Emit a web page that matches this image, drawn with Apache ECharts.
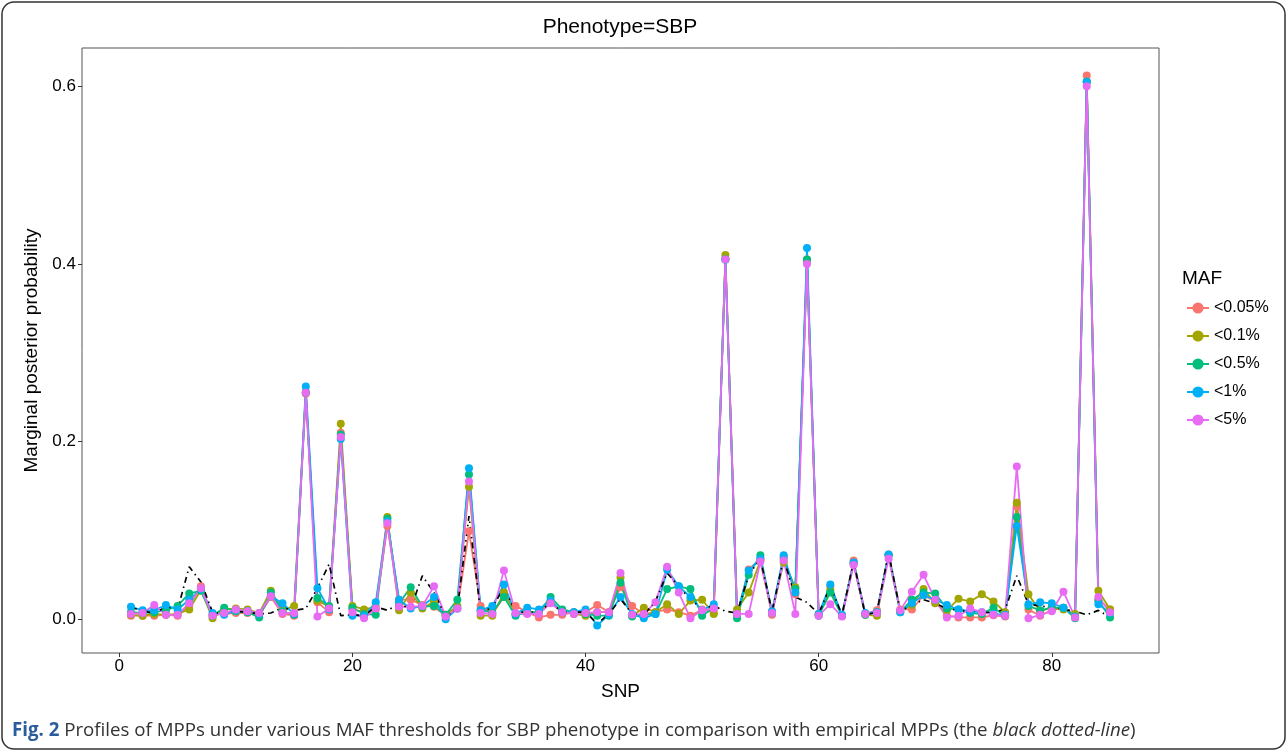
<!DOCTYPE html>
<html>
<head>
<meta charset="utf-8">
<script src="https://cdn.jsdelivr.net/npm/echarts@6/dist/echarts.min.js"></script>
<style>
  html, body { margin: 0; padding: 0; background: #fff; }
  #chart { width: 1288px; height: 752px; }
</style>
</head>
<body>
<div id="chart"></div>
<script>
// SNP index 1..85
var snp = [1,2,3,4,5,6,7,8,9,10,11,12,13,14,15,16,17,18,19,20,21,22,23,24,25,26,27,28,29,30,
  31,32,33,34,35,36,37,38,39,40,41,42,43,44,45,46,47,48,49,50,51,52,53,54,55,56,57,58,59,60,
  61,62,63,64,65,66,67,68,69,70,71,72,73,74,75,76,77,78,79,80,81,82,83,84,85];

// MAF < 0.05%
var maf005 = [0.004,0.004,0.004,0.005,0.004,0.015,0.037,0.005,0.006,0.007,0.007,0.004,0.025,0.006,0.004,
  0.254,0.019,0.008,0.210,0.011,0.008,0.011,0.105,0.022,0.022,0.016,0.014,0.004,0.012,0.099,
  0.015,0.006,0.025,0.015,0.008,0.002,0.005,0.005,0.008,0.008,0.016,0.008,0.036,0.015,0.006,
  0.008,0.011,0.008,0.004,0.011,0.008,0.406,0.005,0.056,0.068,0.005,0.070,0.028,0.405,0.005,
  0.037,0.004,0.066,0.006,0.010,0.073,0.011,0.011,0.027,0.020,0.004,0.002,0.002,0.002,0.0045,
  0.003,0.127,0.011,0.004,0.010,0.013,0.004,0.612,0.022,0.011];
// MAF < 0.1%
var maf01 = [0.005,0.004,0.006,0.005,0.006,0.011,0.033,0.001,0.011,0.012,0.011,0.007,0.032,0.010,0.015,
  0.256,0.021,0.014,0.220,0.015,0.011,0.014,0.115,0.010,0.030,0.012,0.020,0.005,0.015,0.149,
  0.004,0.004,0.030,0.006,0.007,0.008,0.020,0.008,0.006,0.004,0.008,0.008,0.047,0.004,0.013,
  0.008,0.017,0.006,0.021,0.022,0.006,0.410,0.011,0.030,0.066,0.008,0.064,0.036,0.403,0.006,
  0.033,0.004,0.063,0.005,0.004,0.072,0.009,0.016,0.034,0.018,0.010,0.023,0.020,0.028,0.020,
  0.008,0.131,0.028,0.009,0.013,0.011,0.006,0.605,0.032,0.011];
// MAF < 0.5%
var maf05 = [0.008,0.007,0.008,0.010,0.015,0.029,0.032,0.004,0.013,0.009,0.008,0.002,0.030,0.009,0.005,
  0.255,0.024,0.015,0.208,0.013,0.006,0.005,0.113,0.018,0.036,0.014,0.015,0.005,0.022,0.163,
  0.010,0.008,0.025,0.004,0.008,0.008,0.025,0.011,0.008,0.006,0.004,0.004,0.041,0.003,0.005,
  0.006,0.034,0.037,0.034,0.004,0.013,0.405,0.001,0.050,0.072,0.007,0.068,0.034,0.405,0.004,
  0.030,0.004,0.063,0.005,0.008,0.072,0.008,0.022,0.030,0.029,0.012,0.011,0.007,0.006,0.013,
  0.004,0.115,0.015,0.010,0.013,0.013,0.001,0.605,0.021,0.002];
// MAF < 1%
var maf1 = [0.014,0.010,0.010,0.016,0.011,0.022,0.034,0.007,0.005,0.010,0.009,0.006,0.026,0.018,0.006,
  0.262,0.035,0.011,0.203,0.004,0.004,0.019,0.110,0.022,0.012,0.015,0.025,0.000,0.012,0.170,
  0.010,0.015,0.039,0.006,0.013,0.011,0.021,0.008,0.008,0.011,-0.007,0.005,0.025,0.006,0.001,
  0.006,0.056,0.037,0.025,0.010,0.017,0.405,0.006,0.055,0.068,0.009,0.072,0.030,0.418,0.006,
  0.039,0.005,0.064,0.007,0.008,0.073,0.008,0.018,0.027,0.022,0.016,0.011,0.009,0.008,0.006,
  0.005,0.105,0.017,0.019,0.018,0.013,0.003,0.605,0.017,0.007];
// MAF < 5%
var maf5 = [0.006,0.007,0.016,0.005,0.005,0.018,0.035,0.004,0.007,0.011,0.009,0.007,0.026,0.007,0.007,
  0.255,0.003,0.012,0.205,0.008,0.001,0.012,0.108,0.014,0.014,0.015,0.037,0.003,0.012,0.155,
  0.007,0.006,0.055,0.007,0.006,0.006,0.018,0.008,0.006,0.007,0.008,0.008,0.052,0.005,0.006,
  0.019,0.059,0.030,0.001,0.010,0.012,0.405,0.006,0.006,0.065,0.007,0.066,0.006,0.400,0.004,
  0.017,0.003,0.061,0.006,0.007,0.068,0.010,0.031,0.050,0.022,0.002,0.004,0.012,0.008,0.005,
  0.004,0.172,0.001,0.005,0.009,0.031,0.002,0.600,0.025,0.008];
// empirical MPPs (black dotted line)
var empirical = [0.013,0.010,0.006,0.014,0.011,0.059,0.042,0.008,0.006,0.009,0.008,0.006,0.007,0.013,0.010,
  0.012,0.035,0.062,0.004,0.005,0.004,0.014,0.010,0.017,0.012,0.049,0.030,0.003,0.012,0.116,
  0.008,0.013,0.036,0.008,0.008,0.008,0.019,0.008,0.008,0.008,-0.005,0.006,0.023,0.006,0.005,
  0.020,0.052,0.037,0.022,0.012,0.015,0.009,0.007,0.050,0.068,0.009,0.068,0.025,0.019,0.006,
  0.037,0.005,0.065,0.005,0.008,0.075,0.009,0.016,0.022,0.018,0.012,0.010,0.009,0.0075,0.008,
  0.011,0.049,0.017,0.015,0.013,0.011,0.009,0.005,0.010,0.002];

var mafNames = ['<0.05%', '<0.1%', '<0.5%', '<1%', '<5%'];
var mafColors = ['#F8766D', '#A3A500', '#00BF7D', '#00B0F6', '#E76BF3'];
var mafValues = [maf005, maf01, maf05, maf1, maf5];
var xTicks = [0, 20, 40, 60, 80];
var yTicks = [0, 0.2, 0.4, 0.6];

function pairs(vals) {
  return snp.map(function (s, i) { return [s, vals[i]]; });
}

var chart = echarts.init(document.getElementById('chart'));

var series = mafNames.map(function (name, k) {
  return {
    name: name,
    type: 'line',
    data: pairs(mafValues[k]),
    symbol: 'circle',
    symbolSize: 8,
    showAllSymbol: true,
    itemStyle: { color: mafColors[k] },
    lineStyle: { color: mafColors[k], width: 1.8 },
    emphasis: { disabled: true }
  };
});
series.push({
  name: 'empirical',
  type: 'line',
  data: pairs(empirical),
  symbol: 'none',
  lineStyle: { color: '#000', width: 1.7, type: [6, 4, 1.5, 4] },
  emphasis: { disabled: true },
  z: 3
});

var option = {
  animation: false,
  backgroundColor: '#fff',
  grid: {
    left: 82, top: 48, right: 129, bottom: 99,
    show: true, borderColor: '#555', borderWidth: 1, backgroundColor: '#fff'
  },
  xAxis: {
    type: 'value',
    min: -3.2, max: 89.2,
    name: 'SNP',
    nameLocation: 'middle',
    nameGap: 29,
    nameTextStyle: { fontFamily: 'Liberation Sans', fontSize: 19, color: '#000' },
    axisLine: { show: false, onZero: false },
    splitLine: { show: false },
    axisTick: { show: true, length: 4, lineStyle: { color: '#333' }, customValues: xTicks },
    axisLabel: { fontFamily: 'Liberation Sans', fontSize: 17, color: '#000', margin: 5, customValues: xTicks }
  },
  yAxis: {
    type: 'value',
    min: -0.038, max: 0.643,
    name: 'Marginal posterior probability',
    nameLocation: 'middle',
    nameGap: 40,
    nameTextStyle: { fontFamily: 'Liberation Sans', fontSize: 19, color: '#000' },
    axisLine: { show: false, onZero: false },
    splitLine: { show: false },
    axisTick: { show: true, length: 4, lineStyle: { color: '#333' }, customValues: yTicks },
    axisLabel: {
      fontFamily: 'Liberation Sans', fontSize: 17, color: '#000', margin: 6, customValues: yTicks,
      formatter: function (v) { return v.toFixed(1); }
    }
  },
  legend: {
    data: mafNames,
    orient: 'vertical',
    left: 1181, top: 295,
    itemWidth: 22, itemHeight: 14,
    itemGap: 12,
    textStyle: { fontFamily: 'Liberation Sans', fontSize: 16, color: '#000' },
    selectedMode: false
  },
  graphic: [
    {
      type: 'rect',
      shape: { x: 2, y: 2, width: 1283, height: 747, r: 12 },
      style: { fill: 'none', stroke: '#333', lineWidth: 1.5 },
      silent: true
    },
    {
      type: 'text',
      x: 620, y: 17,
      style: { text: 'Phenotype=SBP', fontFamily: 'Liberation Sans', fontSize: 21, fill: '#000', align: 'center' },
      silent: true
    },
    {
      type: 'text',
      x: 1182, y: 269,
      style: { text: 'MAF', fontFamily: 'Liberation Sans', fontSize: 19, fill: '#000' },
      silent: true
    },
    {
      type: 'text',
      x: 12, y: 721,
      style: {
        text: '{b|Fig. 2} Profiles of MPPs under various MAF thresholds for SBP phenotype in comparison with empirical MPPs (the {i|black dotted-line})',
        fontFamily: 'Open Sans', fontSize: 18.7, fill: '#333',
        rich: {
          b: { fontFamily: 'Open Sans', fontSize: 18.7, fontWeight: 'bold', fill: '#2a5d9c' },
          i: { fontFamily: 'Open Sans', fontSize: 18.7, fontStyle: 'italic', fill: '#333' }
        }
      },
      silent: true
    }
  ],
  series: series
};

chart.setOption(option);
</script>
</body>
</html>
